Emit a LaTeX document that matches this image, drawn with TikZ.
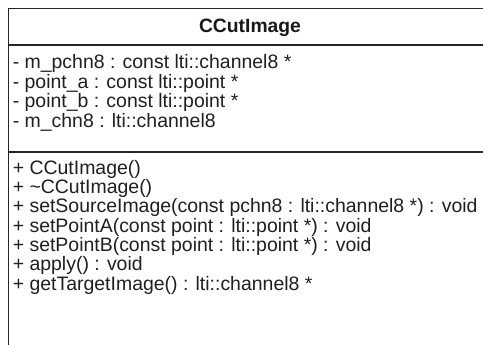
\documentclass[tikz,border=0pt]{standalone}
\usepackage{fontspec}
\setmainfont{Liberation Sans}
\begin{document}
\begin{tikzpicture}[x=1pt,y=-1pt,
  frame/.style={draw=black!85,line width=1.6pt},
  member/.style={anchor=base west,inner sep=0pt,font=\fontsize{19.45}{19.45}\selectfont,text=black!88},
  title/.style={anchor=base,inner sep=0pt,font=\fontsize{19.3}{19.3}\selectfont\bfseries,text=black!90}]
\useasboundingbox (0,0) rectangle (483,345);
\clip (0,0) rectangle (483,345);
% class box with its two compartment dividers
\draw[frame] (8.5,8.5) rectangle (492,346.4);
\draw[frame] (8.5,45) -- (492,45);
\draw[frame] (8.5,152) -- (492,152);
% class name
\node[title] (name) at (250,33) {CCutImage};
% attributes
\node[member] (a1) at (12.6,69)    {- m\_pchn8 : const lti::channel8 *};
\node[member] (a2) at (12.6,88.4)  {- point\_a : const lti::point *};
\node[member] (a3) at (12.6,107.8) {- point\_b : const lti::point *};
\node[member] (a4) at (12.6,127.1) {- m\_chn8 : lti::channel8};
% operations
\node[member] (o1) at (12.6,174.3) {+ CCutImage()};
\node[member] (o2) at (12.6,193.6) {+ \char`\~CCutImage()};
\node[member] (o3) at (12.6,213.0) {+ setSourceImage(const pchn8 : lti::channel8 *) : void};
\node[member] (o4) at (12.6,232.3) {+ setPointA(const point : lti::point *) : void};
\node[member] (o5) at (12.6,251.7) {+ setPointB(const point : lti::point *) : void};
\node[member] (o6) at (12.6,271.0) {+ apply() : void};
\node[member] (o7) at (12.6,290.4) {+ getTargetImage() : lti::channel8 *};
\end{tikzpicture}
\end{document}
